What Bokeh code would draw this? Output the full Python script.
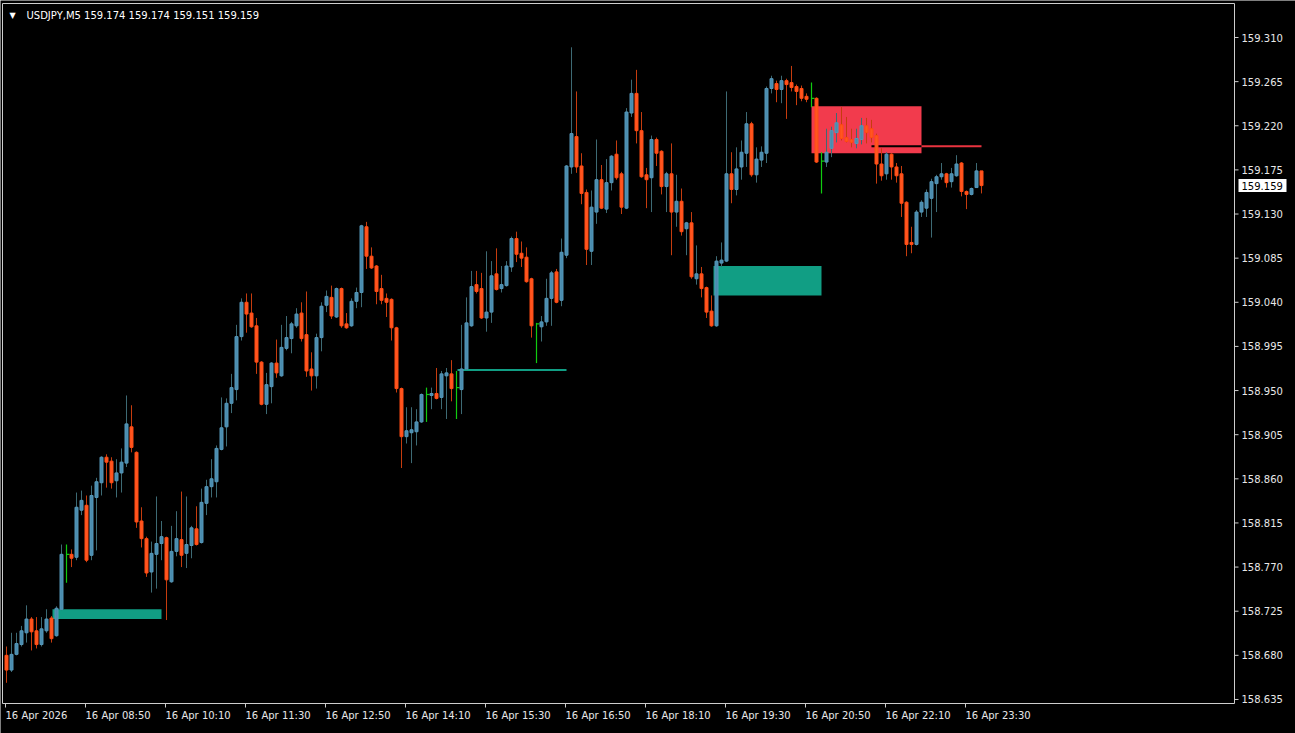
import numpy as np
from bokeh.plotting import figure
from bokeh.models import Range1d
from bokeh.core.properties import value
from bokeh.embed import file_html
from bokeh.resources import INLINE

symbol = "USDJPY,M5"

opens = [158.680, 158.665, 158.681, 158.691, 158.703, 158.717, 158.705, 158.691, 158.705, 158.718,
         158.700, 158.727, 158.783, 158.783, 158.780, 158.828, 158.833, 158.782, 158.841, 158.856,
         158.882, 158.878, 158.858, 158.866, 158.876, 158.913, 158.887, 158.817, 158.799, 158.765,
         158.783, 158.794, 158.800, 158.755, 158.786, 158.798, 158.784, 158.792, 158.809, 158.795,
         158.835, 158.852, 158.857, 158.890, 158.913, 158.937, 158.951, 159.005, 159.040, 159.029,
         159.016, 158.979, 158.936, 158.954, 158.978, 158.965, 158.993, 159.003, 159.016, 159.029,
         159.007, 158.972, 158.965, 159.004, 159.037, 159.045, 159.025, 159.054, 159.018, 159.016,
         159.041, 159.050, 159.117, 159.087, 159.077, 159.054, 159.044, 159.043, 159.014, 158.952,
         158.903, 158.907, 158.908, 158.918, 158.946, 158.945, 158.947, 158.943, 158.965, 158.967,
         158.953, 158.951, 158.972, 159.016, 159.058, 159.054, 159.024, 159.030, 159.069, 159.054,
         159.057, 159.076, 159.105, 159.090, 159.086, 159.064, 159.018, 159.015, 159.020, 159.044,
         159.071, 159.042, 159.088, 159.178, 159.209, 159.179, 159.152, 159.092, 159.132, 159.165,
         159.135, 159.162, 159.191, 159.171, 159.136, 159.233, 159.253, 159.215, 159.170, 159.167,
         159.206, 159.194, 159.158, 159.171, 159.132, 159.143, 159.115, 159.121, 159.064, 159.069,
         159.055, 159.031, 159.016, 159.080, 159.082, 159.171, 159.155, 159.178, 159.192, 159.222,
         159.170, 159.185, 159.192, 159.258, 159.263, 159.257, 159.266, 159.264, 159.260, 159.258,
         159.250, 159.248, 159.248, 159.184, 159.183, 159.197, 159.213, 159.221, 159.208, 159.206,
         159.202, 159.206, 159.220, 159.217, 159.210, 159.181, 159.171, 159.191, 159.178, 159.171,
         159.142, 159.101, 159.099, 159.132, 159.136, 159.146, 159.161, 159.168, 159.171, 159.163,
         159.169, 159.182, 159.153, 159.150, 159.157, 159.174]

highs = [158.689, 158.703, 158.703, 158.710, 158.731, 158.719, 158.719, 158.719, 158.727, 158.720,
         158.730, 158.793, 158.793, 158.788, 158.846, 158.848, 158.843, 158.853, 158.861, 158.883,
         158.885, 158.882, 158.880, 158.891, 158.945, 158.935, 158.888, 158.831, 158.801, 158.796,
         158.842, 158.817, 158.801, 158.812, 158.827, 158.847, 158.842, 158.812, 158.832, 158.850,
         158.859, 158.880, 158.894, 158.943, 158.942, 158.967, 159.017, 159.044, 159.049, 159.049,
         159.024, 158.980, 158.968, 158.979, 159.002, 159.017, 159.026, 159.020, 159.034, 159.040,
         159.051, 158.989, 159.008, 159.040, 159.052, 159.057, 159.055, 159.055, 159.029, 159.044,
         159.055, 159.119, 159.122, 159.096, 159.078, 159.068, 159.049, 159.044, 159.015, 158.953,
         158.933, 158.933, 158.931, 158.947, 158.953, 158.953, 158.973, 158.970, 158.973, 158.981,
         158.970, 159.017, 159.045, 159.072, 159.072, 159.070, 159.092, 159.082, 159.095, 159.077,
         159.082, 159.107, 159.112, 159.102, 159.096, 159.065, 159.019, 159.026, 159.064, 159.072,
         159.074, 159.105, 159.180, 159.300, 159.255, 159.192, 159.155, 159.154, 159.206, 159.180,
         159.186, 159.190, 159.205, 159.173, 159.238, 159.267, 159.277, 159.234, 159.177, 159.210,
         159.208, 159.195, 159.173, 159.202, 159.170, 159.156, 159.122, 159.132, 159.098, 159.076,
         159.056, 159.047, 159.087, 159.101, 159.255, 159.193, 159.198, 159.205, 159.234, 159.224,
         159.198, 159.199, 159.260, 159.271, 159.266, 159.271, 159.268, 159.281, 159.262, 159.261,
         159.253, 159.264, 159.249, 159.193, 159.217, 159.219, 159.233, 159.239, 159.229, 159.217,
         159.217, 159.228, 159.228, 159.226, 159.212, 159.197, 159.193, 159.192, 159.182, 159.179,
         159.143, 159.117, 159.134, 159.144, 159.155, 159.166, 159.170, 159.182, 159.172, 159.177,
         159.190, 159.183, 159.154, 159.157, 159.182, 159.174]

lows = [158.652, 158.663, 158.680, 158.689, 158.693, 158.685, 158.687, 158.689, 158.703, 158.693,
        158.699, 158.726, 158.754, 158.770, 158.777, 158.823, 158.775, 158.777, 158.787, 158.843,
        158.851, 158.850, 158.841, 158.846, 158.872, 158.887, 158.810, 158.790, 158.760, 158.744,
        158.748, 158.777, 158.716, 158.754, 158.781, 158.770, 158.769, 158.779, 158.792, 158.794,
        158.823, 158.841, 158.841, 158.889, 158.893, 158.927, 158.940, 159.001, 159.009, 159.014,
        158.967, 158.935, 158.926, 158.937, 158.963, 158.964, 158.991, 158.988, 159.014, 159.000,
        158.964, 158.950, 158.952, 158.990, 159.030, 159.023, 159.024, 159.014, 159.013, 159.015,
        159.034, 159.035, 159.074, 159.074, 159.038, 159.038, 159.025, 159.001, 158.948, 158.871,
        158.896, 158.876, 158.894, 158.917, 158.918, 158.931, 158.941, 158.931, 158.921, 158.939,
        158.921, 158.926, 158.971, 159.015, 159.049, 159.023, 159.010, 159.019, 159.052, 159.050,
        159.056, 159.071, 159.081, 159.076, 159.060, 159.004, 158.978, 159.000, 159.016, 159.016,
        159.039, 159.036, 159.085, 159.171, 159.172, 159.140, 159.078, 159.078, 159.120, 159.135,
        159.131, 159.154, 159.165, 159.130, 159.135, 159.229, 159.202, 159.167, 159.136, 159.132,
        159.179, 159.150, 159.132, 159.088, 159.117, 159.108, 159.088, 159.064, 159.058, 159.045,
        159.024, 159.015, 159.015, 159.076, 159.081, 159.141, 159.149, 159.165, 159.178, 159.168,
        159.162, 159.178, 159.182, 159.253, 159.244, 159.243, 159.227, 159.255, 159.241, 159.245,
        159.244, 159.239, 159.182, 159.151, 159.178, 159.188, 159.203, 159.205, 159.203, 159.198,
        159.197, 159.201, 159.202, 159.203, 159.161, 159.164, 159.165, 159.165, 159.162, 159.127,
        159.087, 159.090, 159.098, 159.127, 159.127, 159.106, 159.132, 159.165, 159.157, 159.157,
        159.168, 159.148, 159.135, 159.149, 159.157, 159.151]

closes = [158.665, 158.681, 158.692, 158.705, 158.717, 158.704, 158.691, 158.707, 158.717, 158.697,
          158.728, 158.783, 158.783, 158.779, 158.831, 158.838, 158.777, 158.843, 158.857, 158.882,
          158.877, 158.856, 158.866, 158.877, 158.916, 158.892, 158.816, 158.799, 158.764, 158.784,
          158.794, 158.801, 158.757, 158.786, 158.799, 158.782, 158.793, 158.810, 158.793, 158.836,
          158.852, 158.860, 158.891, 158.912, 158.937, 158.953, 159.005, 159.040, 159.028, 159.015,
          158.979, 158.936, 158.956, 158.978, 158.968, 158.994, 159.004, 159.018, 159.028, 159.003,
          158.970, 158.965, 159.004, 159.036, 159.046, 159.026, 159.054, 159.016, 159.014, 159.041,
          159.050, 159.118, 159.087, 159.075, 159.051, 159.042, 159.040, 159.014, 158.952, 158.903,
          158.909, 158.910, 158.918, 158.946, 158.946, 158.947, 158.942, 158.967, 158.968, 158.952,
          158.953, 158.972, 159.019, 159.056, 159.051, 159.024, 159.030, 159.067, 159.053, 159.058,
          159.077, 159.105, 159.089, 159.085, 159.061, 159.016, 159.018, 159.020, 159.044, 159.070,
          159.040, 159.091, 159.179, 159.212, 159.178, 159.151, 159.094, 159.137, 159.165, 159.136,
          159.162, 159.189, 159.167, 159.137, 159.234, 159.253, 159.215, 159.168, 159.165, 159.206,
          159.192, 159.158, 159.171, 159.132, 159.143, 159.112, 159.121, 159.066, 159.069, 159.054,
          159.030, 159.016, 159.082, 159.083, 159.171, 159.155, 159.176, 159.193, 159.222, 159.170,
          159.186, 159.193, 159.258, 159.268, 159.257, 159.266, 159.262, 159.259, 159.255, 159.248,
          159.247, 159.248, 159.183, 159.184, 159.193, 159.215, 159.223, 159.207, 159.204, 159.203,
          159.207, 159.220, 159.213, 159.208, 159.181, 159.169, 159.191, 159.178, 159.169, 159.141,
          159.099, 159.099, 159.132, 159.142, 159.152, 159.163, 159.168, 159.171, 159.162, 159.171,
          159.181, 159.153, 159.150, 159.156, 159.174, 159.159]

time_label_bars = [0, 16, 32, 48, 64, 80, 96, 112, 128, 144, 160, 176, 192]
time_labels = ["16 Apr 2026", "16 Apr 08:50", "16 Apr 10:10", "16 Apr 11:30", "16 Apr 12:50",
               "16 Apr 14:10", "16 Apr 15:30", "16 Apr 16:50", "16 Apr 18:10", "16 Apr 19:30",
               "16 Apr 20:50", "16 Apr 22:10", "16 Apr 23:30"]
price_ticks = [158.635, 158.680, 158.725, 158.770, 158.815, 158.860, 158.905, 158.950,
               158.995, 159.040, 159.085, 159.130, 159.175, 159.220, 159.265, 159.310]

# supply / demand zones (bar index start/end, price top/bottom)
zone_start = [9.2, 141.4, 161.0]
zone_end = [31.0, 163.0, 183.0]
zone_top = [158.727, 159.077, 159.240]
zone_bottom = [158.717, 159.047, 159.192]
zone_kind = ["demand", "demand", "supply"]

# horizontal levels
level_start = [90.2, 173.0]
level_end = [112.0, 195.0]
level_price = [158.971, 159.199]
level_kind = ["demand", "supply"]

# ---------------------------------------------------------------
FONT = "DejaVu Sans"
TXT = "#e8e8e8"
FRAME = "#cdcdcd"
TEAL = "#119e84"
RED = "#f23b4d"
RED_LINE = "#e8333f"
BULL_FILL, BULL_LINE, BULL_WICK = "#4a8cae", "#5596b8", "#3d6a74"
BEAR_FILL, BEAR_LINE, BEAR_WICK = "#ff5620", "#ff4a12", "#c63c0e"
DOJI = "#10cc10"

W, H = 1295, 733
PX_PER_PRICE = 980.7   # vertical pixels per 1.000 of price
PX_PER_BAR = 5.0       # horizontal pixels per bar


def ry(y_px):
    """price at a vertical pixel position of the canvas"""
    return 159.310 - (y_px - 37) / PX_PER_PRICE


def rx(x_px):
    """bar coordinate at a horizontal pixel position of the canvas"""
    return (x_px - 6) / PX_PER_BAR


o = np.array(opens)
h = np.array(highs)
l = np.array(lows)
c = np.array(closes)
idx = np.arange(len(o))
bull = c > o
bear = c < o
doji = c == o

p = figure(width=W, height=H, x_range=Range1d(rx(0), rx(W)), y_range=Range1d(ry(H), ry(0)),
           x_axis_type=None, y_axis_type=None, output_backend="svg", toolbar_location=None,
           background_fill_color="black", border_fill_color="black",
           min_border=0, outline_line_color=None)
p.grid.visible = False

# zones
zcol = [TEAL if k == "demand" else RED for k in zone_kind]
p.quad(left=zone_start, right=zone_end, top=zone_top, bottom=zone_bottom,
       fill_color=zcol, line_color=None)

# levels (inside a supply zone the line shows dark)
for s, e, pr, k in zip(level_start, level_end, level_price, level_kind):
    col = TEAL if k == "demand" else RED_LINE
    p.segment(x0=[s], y0=[pr], x1=[e], y1=[pr], line_color=col, line_width=2)
    for zs, ze, zt, zb in zip(zone_start, zone_end, zone_top, zone_bottom):
        if zb <= pr <= zt and ze > s and zs < e:
            p.segment(x0=[max(s, zs)], y0=[pr], x1=[min(e, ze)], y1=[pr],
                      line_color="black", line_width=2)

# wicks
p.segment(x0=idx[bull], y0=l[bull], x1=idx[bull], y1=h[bull], line_color=BULL_WICK, line_width=1)
p.segment(x0=idx[bear], y0=l[bear], x1=idx[bear], y1=h[bear], line_color=BEAR_WICK, line_width=1)
p.segment(x0=idx[doji], y0=l[doji], x1=idx[doji], y1=h[doji], line_color=DOJI, line_width=1.2)
p.segment(x0=idx[doji], y0=o[doji], x1=idx[doji] + 0.6, y1=o[doji], line_color=DOJI, line_width=1.2)

# bodies
p.vbar(x=idx[bull], width=0.6, top=c[bull], bottom=o[bull],
       fill_color=BULL_FILL, line_color=BULL_LINE, line_width=1)
p.vbar(x=idx[bear], width=0.6, top=o[bear], bottom=c[bear],
       fill_color=BEAR_FILL, line_color=BEAR_LINE, line_width=1)

# chart frame
x_left, x_right = rx(2), rx(1234)
y_top, y_bot = ry(3), ry(703)
p.segment(x0=[x_left, x_left, x_right, x_left], y0=[y_top, y_bot, y_bot, y_top],
          x1=[x_right, x_right, x_right, x_left], y1=[y_top, y_bot, y_top, y_bot],
          line_color=FRAME, line_width=1)

# price scale (right)
p.segment(x0=[x_right] * len(price_ticks), y0=price_ticks,
          x1=[rx(1238)] * len(price_ticks), y1=price_ticks, line_color=FRAME, line_width=1)
p.text(x=[rx(1241)] * len(price_ticks), y=price_ticks, text=[f"{t:.3f}" for t in price_ticks],
       text_color=TXT, text_font=value(FONT), text_font_size="10px",
       text_baseline="middle", text_align="left")

# current price box
half = 6.5 / PX_PER_PRICE
p.quad(left=[rx(1238)], right=[rx(1286)], top=[c[-1] + half], bottom=[c[-1] - half],
       fill_color="white", line_color=None)
p.text(x=[rx(1241)], y=[c[-1]], text=[f"{c[-1]:.3f}"], text_color="black",
       text_font=value(FONT), text_font_size="10px", text_baseline="middle", text_align="left")

# time scale (bottom), labels left-aligned at their bar
tb = np.array(time_label_bars, dtype=float)
p.segment(x0=tb - 0.2, y0=[y_bot] * len(tb), x1=tb - 0.2, y1=[ry(707)] * len(tb),
          line_color=FRAME, line_width=1)
p.text(x=tb - 0.2, y=[ry(715)] * len(tb), text=time_labels, text_color=TXT,
       text_font=value(FONT), text_font_size="10px", text_baseline="middle", text_align="left")

# header
p.text(x=[rx(9)], y=[ry(15)], text=["\u25BC"], text_color="white", text_font=value(FONT),
       text_font_size="8px", text_baseline="middle", text_align="left")
title = f"{symbol}  {o[-1]:.3f} {h[-1]:.3f} {l[-1]:.3f} {c[-1]:.3f}"
p.text(x=[rx(26)], y=[ry(15)], text=[title], text_color="white", text_font=value(FONT),
       text_font_size="10px", text_baseline="middle", text_align="left")

open("out.html", "w").write(file_html(p, INLINE))
